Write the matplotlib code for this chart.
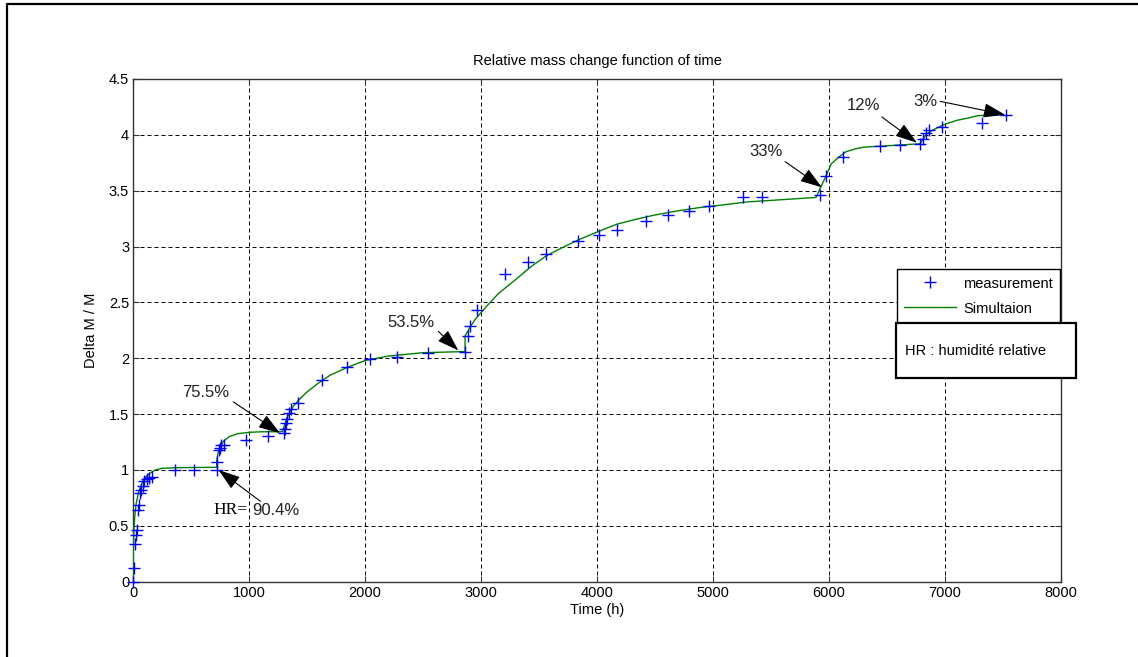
import matplotlib
matplotlib.use("Agg")
import matplotlib.pyplot as plt
from matplotlib.lines import Line2D
from matplotlib.patches import Rectangle

meas_t = [0, 3, 15, 22, 28, 40, 45, 55, 65, 80, 95, 115, 135, 160, 362, 525,
          721, 721, 735, 745, 760, 780, 970, 1165, 1300, 1310, 1320, 1330,
          1345, 1360, 1425, 1625, 1841, 2040, 2273, 2540, 2862, 2891, 2905,
          2963, 3207, 3408, 3560, 3839, 4020, 4175, 4422, 4609, 4796, 4968,
          5256, 5420, 5922, 5974, 6118, 6440, 6612, 6790, 6813, 6836, 6865,
          6980, 7325, 7532]
meas_y = [0, 0.12, 0.34, 0.42, 0.46, 0.64, 0.69, 0.79, 0.82, 0.86, 0.90, 0.92,
          0.93, 0.94, 1.0, 1.0, 1.0, 1.07, 1.18, 1.20, 1.22, 1.22, 1.27, 1.30,
          1.33, 1.37, 1.42, 1.46, 1.51, 1.55, 1.60, 1.81, 1.92, 1.99, 2.01,
          2.05, 2.056, 2.20, 2.29, 2.43, 2.75, 2.86, 2.93, 3.05, 3.10, 3.15,
          3.23, 3.28, 3.32, 3.36, 3.44, 3.44, 3.46, 3.63, 3.80, 3.90, 3.91,
          3.92, 3.96, 4.02, 4.04, 4.07, 4.11, 4.18]

# simulated curve
sim_t = [0, 0, 5, 12, 25, 45, 70, 100, 140, 190, 250, 350, 500, 720, 720, 730,
         750, 780, 830, 900, 1000, 1100, 1290, 1290, 1310, 1340, 1380, 1430,
         1500, 1600, 1700, 1850, 2000, 2200, 2500, 2862, 2862, 2900, 2950,
         3043, 3150, 3293, 3430, 3567, 3700, 3840, 4000, 4170, 4320, 4487,
         4700, 4890, 5062, 5300, 5600, 5890, 5925, 5975, 6020, 6085, 6150,
         6230, 6299, 6471, 6620, 6788, 6810, 6845, 6910, 6989, 7104, 7200,
         7277, 7400, 7507]
sim_y = [0, 0.28, 0.45, 0.58, 0.70, 0.80, 0.87, 0.93, 0.97, 1.00, 1.015, 1.02,
         1.022, 1.024, 1.08, 1.15, 1.21, 1.26, 1.30, 1.325, 1.337, 1.342,
         1.343, 1.36, 1.42, 1.50, 1.57, 1.63, 1.70, 1.78, 1.85, 1.92, 1.98,
         2.02, 2.05, 2.06, 2.20, 2.27, 2.35, 2.46, 2.58, 2.70, 2.82, 2.92,
         2.99, 3.06, 3.13, 3.20, 3.24, 3.28, 3.32, 3.35, 3.37, 3.40, 3.42,
         3.44, 3.52, 3.63, 3.74, 3.80, 3.85, 3.875, 3.89, 3.90, 3.91, 3.92,
         3.96, 4.01, 4.05, 4.09, 4.13, 4.15, 4.17, 4.18, 4.18]

# humidity steps: label, label position, arrow tail, arrow head
hr_labels = ["75.5%", "53.5%", "33%", "12%", "3%"]
hr_text_xy = [(420, 1.69), (2189, 2.32), (5312, 3.85), (6158, 4.26), (6728, 4.30)]
hr_tail = [(862, 1.61), (2632, 2.24), (5623, 3.76), (6457, 4.16), (6960, 4.30)]
hr_head = [(1266, 1.33), (2804, 2.07), (5940, 3.53), (6759, 3.93), (7521, 4.18)]

plt.rcParams['font.family'] = ['Liberation Sans', 'DejaVu Sans']

W, H = 1138, 657
fig = plt.figure(figsize=(W / 100, H / 100), dpi=100)
ax = fig.add_axes([133.3 / W, 1 - 581.7 / H, (1060.7 - 133.3) / W, (581.7 - 79) / H])

ax.plot(meas_t, meas_y, '+', color='#0000ff', markersize=9, markeredgewidth=1.0,
        label='measurement', zorder=4, clip_on=False)
ax.plot(sim_t, sim_y, '-', color='#008000', lw=1.0, label='Simultaion', zorder=3)

ax.set_xlim(0, 8000)
ax.set_ylim(0, 4.5)
ax.set_xticks(range(0, 8001, 1000))
ax.set_yticks([0, 0.5, 1, 1.5, 2, 2.5, 3, 3.5, 4, 4.5])
ax.set_yticklabels(['0', '0.5', '1', '1.5', '2', '2.5', '3', '3.5', '4', '4.5'])
ax.grid(True, color='k', lw=0.72, linestyle=(0, (4, 3)))
ax.tick_params(direction='in', top=True, right=True, length=4, labelsize=10.5,
               color='#333333', pad=3)
for s in ax.spines.values():
    s.set_color('#333333')
    s.set_linewidth(1.0)

ax.set_title('Relative mass change function of time', fontsize=10.5, pad=10)
ax.set_xlabel('Time (h)', fontsize=10.5, labelpad=2)
ax.set_ylabel('Delta M / M', fontsize=10.5, labelpad=8)

arrow = dict(arrowstyle='-|>,head_length=0.9,head_width=0.3', color='k', lw=0.8,
             shrinkA=0, shrinkB=0, mutation_scale=15)
# first step, with the mixed-font label
ax.annotate('', xy=(735, 1.0), xytext=(1096, 0.72), arrowprops=arrow, zorder=5)
ax.text(688, 0.64, 'HR=', fontsize=12.5, family='Liberation Serif', va='center', ha='left')
ax.text(1030, 0.64, '90.4%', fontsize=12, va='center', ha='left', color='#222222')
for lab, txy, tail, head in zip(hr_labels, hr_text_xy, hr_tail, hr_head):
    ax.annotate('', xy=head, xytext=tail, arrowprops=arrow, zorder=5)
    ax.text(txy[0], txy[1], lab, fontsize=12, va='center', ha='left', color='#222222')

leg = ax.legend(loc='upper left', bbox_to_anchor=(896.7 / W, 1 - 269.3 / H),
                bbox_transform=fig.transFigure, fontsize=10.5, fancybox=False,
                framealpha=1, edgecolor='k', borderaxespad=0, borderpad=0.5,
                handlelength=3.6, handletextpad=0.45, labelspacing=0.75)
leg.get_frame().set_linewidth(1.0)

# box under the legend
fig.patches.append(Rectangle((895.7 / W, 1 - 378.3 / H), 180 / W, 55 / H,
                             transform=fig.transFigure, fill=True, facecolor='white',
                             edgecolor='k', lw=1.6, zorder=10))
fig.text(905 / W, 1 - 351 / H, 'HR : humidité relative', fontsize=10.5,
         va='center', ha='left', zorder=11)

# outer figure frame (left and top edges visible)
fig.lines.append(Line2D([7 / W, 7 / W, 1.0], [0.0, 1 - 4 / H, 1 - 4 / H],
                        transform=fig.transFigure, color='k', lw=1.6))

fig.savefig('out.png', dpi=100)
